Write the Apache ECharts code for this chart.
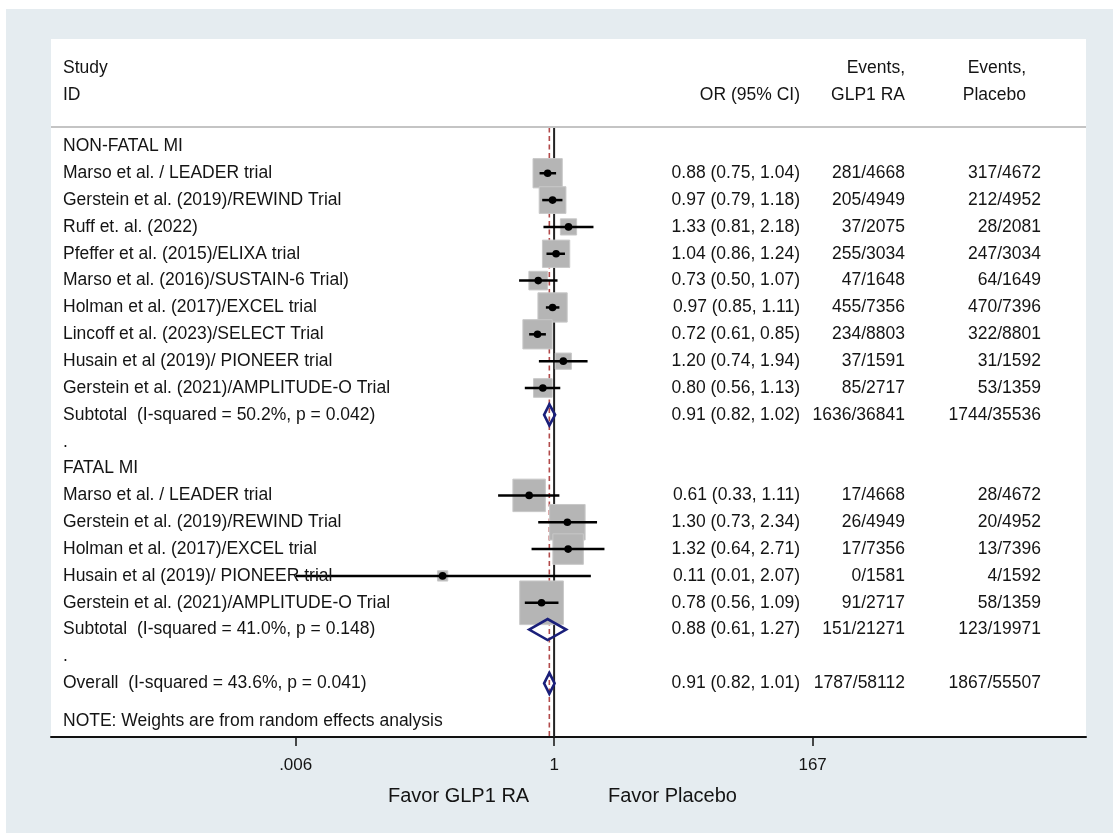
<!DOCTYPE html>
<html>
<head>
<meta charset="utf-8">
<script src="https://cdn.jsdelivr.net/npm/echarts@6/dist/echarts.min.js"></script>
<style>
  html, body { margin: 0; padding: 0; background: #fff; }
  #chart { width: 1113px; height: 833px; }
</style>
</head>
<body>
<div id="chart"></div>
<script>
// ---- Non-fatal MI trials ----
const nonFatalStudies = [
  'Marso et al. / LEADER trial',
  'Gerstein et al. (2019)/REWIND Trial',
  'Ruff et. al. (2022)',
  'Pfeffer et al. (2015)/ELIXA trial',
  'Marso et al. (2016)/SUSTAIN-6 Trial)',
  'Holman et al. (2017)/EXCEL trial',
  'Lincoff et al. (2023)/SELECT Trial',
  'Husain et al (2019)/ PIONEER trial',
  'Gerstein et al. (2021)/AMPLITUDE-O Trial'
];
const nonFatalOR   = [0.88, 0.97, 1.33, 1.04, 0.73, 0.97, 0.72, 1.20, 0.80];
const nonFatalLow  = [0.75, 0.79, 0.81, 0.86, 0.50, 0.85, 0.61, 0.74, 0.56];
const nonFatalHigh = [1.04, 1.18, 2.18, 1.24, 1.07, 1.11, 0.85, 1.94, 1.13];
const nonFatalWeight = [16.3, 13.6, 5.0, 14.2, 6.6, 16.3, 16.3, 5.0, 6.6];
const nonFatalEventsGLP1 = ['281/4668', '205/4949', '37/2075', '255/3034', '47/1648', '455/7356', '234/8803', '37/1591', '85/2717'];
const nonFatalEventsPlacebo = ['317/4672', '212/4952', '28/2081', '247/3034', '64/1649', '470/7396', '322/8801', '31/1592', '53/1359'];

// ---- Fatal MI trials ----
const fatalStudies = [
  'Marso et al. / LEADER trial',
  'Gerstein et al. (2019)/REWIND Trial',
  'Holman et al. (2017)/EXCEL trial',
  'Husain et al (2019)/ PIONEER trial',
  'Gerstein et al. (2021)/AMPLITUDE-O Trial'
];
const fatalOR   = [0.61, 1.30, 1.32, 0.11, 0.78];
const fatalLow  = [0.33, 0.73, 0.64, 0.006, 0.56];
const fatalHigh = [1.11, 2.34, 2.71, 2.07, 1.09];
const fatalWeight = [20.1, 24.0, 17.7, 2.0, 36.3];
const fatalEventsGLP1 = ['17/4668', '26/4949', '17/7356', '0/1581', '91/2717'];
const fatalEventsPlacebo = ['28/4672', '20/4952', '13/7396', '4/1592', '58/1359'];

// ---- Pooled estimates [OR, low, high] ----
const nonFatalSubtotal = [0.91, 0.82, 1.02];
const fatalSubtotal = [0.88, 0.61, 1.27];
const overallPooled = [0.91, 0.82, 1.01];
const heterogeneity = ['I-squared = 50.2%, p = 0.042', 'I-squared = 41.0%, p = 0.148', 'I-squared = 43.6%, p = 0.041'];
const pooledEventsGLP1 = ['1636/36841', '151/21271', '1787/58112'];
const pooledEventsPlacebo = ['1744/35536', '123/19971', '1867/55507'];

const groupTitles = ['NON-FATAL MI', 'FATAL MI'];
const tickValues = [0.006, 1, 167];
const tickLabels = ['.006', '1', '167'];
const favourLabels = ['Favor GLP1 RA', 'Favor Placebo'];
const noteText = 'NOTE: Weights are from random effects analysis';

// ---- layout constants ----
const FONT = '"Liberation Sans", Arial, sans-serif';
const TEXT_COLOR = '#141414';
const FS = 17.5;
const COL_STUDY = 63, COL_OR = 800, COL_GLP = 905, COL_PBO = 1041, COL_PBO_HEAD = 1026;
const BOX_SCALE = 7.25;
const DIAMOND_HALF = 10.5;

const fmt = v => v.toFixed(2);
const ciText = (o, l, h) => fmt(o) + ' (' + fmt(l) + ', ' + fmt(h) + ')';

// build the table rows (row index = vertical position on the y axis)
const rows = [];
let r = 0;
function addGroup(title, names, ors, lows, highs, weights, evG, evP, pooled, het, pg, pp) {
  rows.push({ row: r++, kind: 'head', label: title });
  names.forEach((n, i) => {
    rows.push({ row: r++, kind: 'study', label: n, or: ors[i], lo: lows[i], hi: highs[i], w: weights[i], glp: evG[i], pbo: evP[i] });
  });
  rows.push({ row: r++, kind: 'pooled', label: 'Subtotal  (' + het + ')', or: pooled[0], lo: pooled[1], hi: pooled[2], glp: pg, pbo: pp });
  rows.push({ row: r++, kind: 'blank', label: '.' });
}
addGroup(groupTitles[0], nonFatalStudies, nonFatalOR, nonFatalLow, nonFatalHigh, nonFatalWeight,
  nonFatalEventsGLP1, nonFatalEventsPlacebo, nonFatalSubtotal, heterogeneity[0], pooledEventsGLP1[0], pooledEventsPlacebo[0]);
addGroup(groupTitles[1], fatalStudies, fatalOR, fatalLow, fatalHigh, fatalWeight,
  fatalEventsGLP1, fatalEventsPlacebo, fatalSubtotal, heterogeneity[1], pooledEventsGLP1[1], pooledEventsPlacebo[1]);
rows.push({ row: r++, kind: 'pooled', label: 'Overall  (' + heterogeneity[2] + ')', or: overallPooled[0], lo: overallPooled[1], hi: overallPooled[2], glp: pooledEventsGLP1[2], pbo: pooledEventsPlacebo[2] });
const noteRow = r + 0.4;

const studyRows = rows.filter(d => d.kind === 'study');
const pooledRows = rows.filter(d => d.kind === 'pooled');

// text items: [text, row, align, xPixel]
const textItems = [];
textItems.push(['Study', -2.9, 'left', COL_STUDY]);
textItems.push(['ID', -1.9, 'left', COL_STUDY]);
textItems.push(['OR (95% CI)', -1.9, 'right', COL_OR]);
textItems.push(['Events,', -2.9, 'right', COL_GLP]);
textItems.push(['GLP1 RA', -1.9, 'right', COL_GLP]);
textItems.push(['Events,', -2.9, 'right', COL_PBO_HEAD]);
textItems.push(['Placebo', -1.9, 'right', COL_PBO_HEAD]);
rows.forEach(d => {
  textItems.push([d.label, d.row, 'left', COL_STUDY]);
  if (d.kind === 'study' || d.kind === 'pooled') {
    textItems.push([ciText(d.or, d.lo, d.hi), d.row, 'right', COL_OR]);
    textItems.push([d.glp, d.row, 'right', COL_GLP]);
    textItems.push([d.pbo, d.row, 'right', COL_PBO]);
  }
});
textItems.push([noteText, noteRow, 'left', COL_STUDY]);

const ln = Math.log;

const chart = echarts.init(document.getElementById('chart'), null, { renderer: 'canvas' });

const option = {
  backgroundColor: '#e5ecf0',
  animation: false,
  grid: {
    left: 51, right: 27, top: 39, bottom: 96,
    show: true, backgroundColor: '#ffffff', borderWidth: 0
  },
  xAxis: {
    type: 'value',
    min: -9.96, max: 10.53,
    splitLine: { show: false },
    axisLine: { show: true, onZero: false, lineStyle: { color: '#111', width: 2 } },
    axisTick: {
      show: true, length: 9, inside: false,
      customValues: tickValues.map(ln),
      lineStyle: { color: '#111', width: 1.5 }
    },
    axisLabel: {
      show: true, margin: 20,
      customValues: tickValues.map(ln),
      formatter: v => {
        const i = tickValues.findIndex(t => Math.abs(ln(t) - v) < 1e-6);
        return i >= 0 ? tickLabels[i] : '';
      },
      color: TEXT_COLOR, fontFamily: FONT, fontSize: 17
    }
  },
  yAxis: {
    type: 'value', min: -4, max: 22, inverse: true, show: false
  },
  graphic: [
    { type: 'rect', z: -10, silent: true, shape: { x: 0, y: 0, width: 1113, height: 9 }, style: { fill: '#ffffff' } },
    { type: 'rect', z: -10, silent: true, shape: { x: 0, y: 0, width: 6, height: 833 }, style: { fill: '#ffffff' } },
    { type: 'line', z: 5, silent: true, shape: { x1: 51, y1: 127, x2: 1086, y2: 127 }, style: { stroke: '#c4c4c4', lineWidth: 2 } },
    { type: 'text', z: 5, left: 388, top: 786, style: { text: favourLabels[0], fill: TEXT_COLOR, font: '20px ' + FONT } },
    { type: 'text', z: 5, left: 608, top: 786, style: { text: favourLabels[1], fill: TEXT_COLOR, font: '20px ' + FONT } }
  ],
  series: [
    // null line and pooled-estimate line
    {
      type: 'custom', z: 1, silent: true, clip: false,
      data: [[0, 0, 0], [ln(overallPooled[0]), 0, 1]],
      encode: { x: 0, y: 1 },
      renderItem: (params, api) => {
        const x = api.value(0);
        const top = api.coord([x, -0.7]);
        const bot = api.coord([x, 22]);
        const dashed = api.value(2) === 1;
        return {
          type: 'line',
          shape: { x1: top[0], y1: top[1], x2: bot[0], y2: bot[1] },
          style: dashed
            ? { stroke: '#b24a4a', lineWidth: 1.6, lineDash: [5, 3.5] }
            : { stroke: '#222', lineWidth: 2 }
        };
      }
    },
    // weight boxes
    {
      type: 'custom', z: 2, silent: true, clip: false,
      data: studyRows.map(d => [ln(d.or), d.row, d.w]),
      encode: { x: 0, y: 1 },
      renderItem: (params, api) => {
        const p = api.coord([api.value(0), api.value(1)]);
        const s = BOX_SCALE * Math.sqrt(api.value(2));
        return {
          type: 'rect',
          shape: { x: p[0] - s / 2, y: p[1] - s / 2, width: s, height: s },
          style: { fill: '#b5b5b5', stroke: '#c8c8c8', lineWidth: 1 }
        };
      }
    },
    // confidence intervals and point estimates
    {
      type: 'custom', z: 3, silent: true, clip: false,
      data: studyRows.map(d => [ln(d.or), d.row, ln(d.lo), ln(d.hi)]),
      encode: { x: 0, y: 1 },
      renderItem: (params, api) => {
        const y = api.value(1);
        const p = api.coord([api.value(0), y]);
        const a = api.coord([api.value(2), y]);
        const b = api.coord([api.value(3), y]);
        return {
          type: 'group',
          children: [
            { type: 'line', shape: { x1: a[0], y1: a[1], x2: b[0], y2: b[1] }, style: { stroke: '#000', lineWidth: 2.5 } },
            { type: 'circle', shape: { cx: p[0], cy: p[1], r: 3.8 }, style: { fill: '#000' } }
          ]
        };
      }
    },
    // pooled diamonds
    {
      type: 'custom', z: 4, silent: true, clip: false,
      data: pooledRows.map(d => [ln(d.or), d.row, ln(d.lo), ln(d.hi)]),
      encode: { x: 0, y: 1 },
      renderItem: (params, api) => {
        const y = api.value(1);
        const c = api.coord([api.value(0), y]);
        const a = api.coord([api.value(2), y]);
        const b = api.coord([api.value(3), y]);
        return {
          type: 'polygon',
          shape: { points: [[a[0], a[1]], [c[0], c[1] - DIAMOND_HALF], [b[0], b[1]], [c[0], c[1] + DIAMOND_HALF]] },
          style: { fill: 'none', stroke: '#1a1f7a', lineWidth: 2.6 }
        };
      }
    },
    // table text
    {
      type: 'custom', z: 5, silent: true, clip: false,
      data: textItems.map((t, i) => [0, t[1], i]),
      encode: { x: 0, y: 1 },
      renderItem: (params, api) => {
        const t = textItems[api.value(2)];
        const p = api.coord([0, t[1]]);
        return {
          type: 'text',
          x: t[3], y: p[1],
          style: { text: t[0], fill: TEXT_COLOR, font: FS + 'px ' + FONT, textAlign: t[2], textVerticalAlign: 'middle' }
        };
      }
    }
  ]
};

chart.setOption(option);
</script>
</body>
</html>
